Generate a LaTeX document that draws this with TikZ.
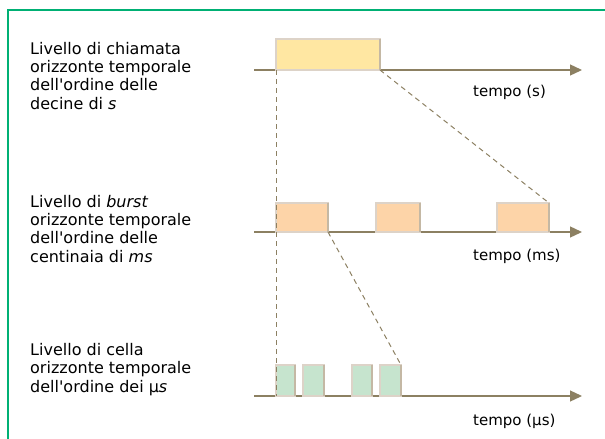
\documentclass[tikz,border=0pt]{standalone}
\usepackage{fontspec}
\setmainfont{DejaVu Sans}
\usetikzlibrary{arrows.meta}
\definecolor{frame}{HTML}{00B074}
\definecolor{axis}{HTML}{8C8062}
\definecolor{boxline}{HTML}{DDD3C8}
\definecolor{boxshade}{HTML}{C4B8A4}
\definecolor{callfill}{HTML}{FFE7A2}
\definecolor{burstfill}{HTML}{FDD4A8}
\definecolor{cellfill}{HTML}{C6E4CE}
\tikzset{
  slot/.style={draw=boxline,line width=2.5pt,inner sep=0pt,outer sep=0pt,anchor=south west},
  zoomline/.style={axis,line width=1pt,dash pattern=on 5pt off 4pt},
  lvl/.style={anchor=base west,align=left,inner sep=0pt,font=\fontsize{16}{18.4}\selectfont},
  unitlabel/.style={anchor=base west,inner sep=0pt,font=\fontsize{15}{18}\selectfont}
}
% slot box: name, left, right, top, bottom, fill
\newcommand{\slotbox}[6]{%
  \node[slot,fill=#6,minimum width={#3-#2},minimum height={#5-#4}] (#1) at (#2,#5) {};
  \draw[boxshade,line width=1.5pt] (#1.north east) -- (#1.south east);
}
\begin{document}
\begin{tikzpicture}[x=1pt,y=-1pt,>={Triangle[length=12pt,width=11pt]}]
  \useasboundingbox (0,0) rectangle (605,439);
  % Parameters
  \def\yCall{70}
  \def\yBurst{232}
  \def\yCell{396}
  % Frame
  \draw[frame,line width=1.3pt] (8,439) -- (8,10) -- (605,10);
  % Axes
  \foreach \y in {\yCall,\yBurst,\yCell}
  {\draw[->,axis,line width=1.3pt] (254,\y) -- (582,\y);}
  \node[unitlabel] (uCall) at (473,96.7) {tempo (s)};
  \node[unitlabel] (uBurst) at (473,260) {tempo (ms)};
  \node[unitlabel] (uCell) at (473,425) {tempo (µs)};
  % Level descriptions (anchored at the last line)
  \node[lvl] (dCall) at (30,109.3) {Livello di chiamata\\orizzonte temporale\\dell\textquotesingle ordine delle\\decine di \textit{s}};
  \node[lvl] (dBurst) at (30,262.3) {Livello di \textit{burst}\\orizzonte temporale\\dell\textquotesingle ordine delle\\centinaia di \textit{ms}};
  \node[lvl] (dCell) at (30,392.3) {Livello di cella\\orizzonte temporale\\dell\textquotesingle ordine dei µ\textit{s}};
  % Call level
  \slotbox{call}{276}{380}{39}{\yCall}{callfill}
  % Burst level
  \foreach \n/\l/\r in {burstA/276/328, burstB/376/420, burstC/497/549}
  {\slotbox{\n}{\l}{\r}{203}{\yBurst}{burstfill}}
  % Cell level
  \foreach \n/\l/\r in {cellA/276/295, cellB/303/324, cellC/352/372, cellD/380/401}
  {\slotbox{\n}{\l}{\r}{365}{\yCell}{cellfill}}
  % Zoom guides
  \draw[zoomline] (call.south west) -- (cellA.south west);
  \draw[zoomline] (call.south east) -- (burstC.north east);
  \draw[zoomline] (burstA.south east) -- (cellD.north east);
\end{tikzpicture}
\end{document}
